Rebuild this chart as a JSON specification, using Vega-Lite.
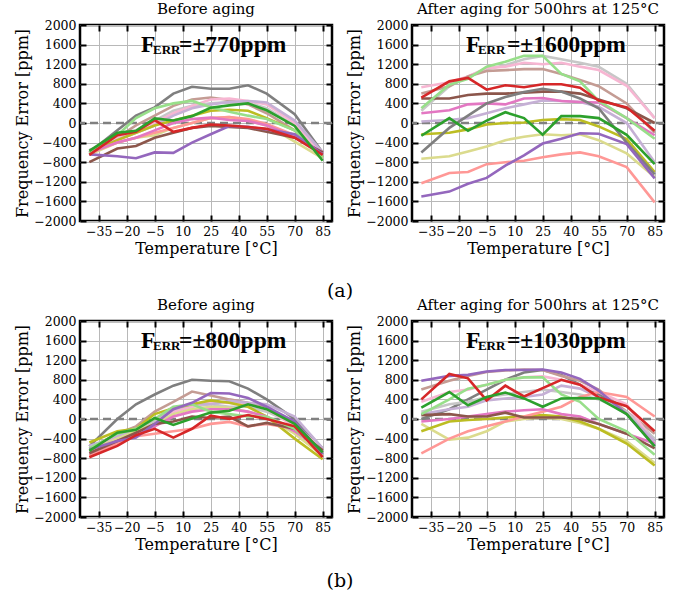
{
  "$schema": "https://vega.github.io/schema/vega-lite/v6.json",
  "padding": {"left": 13, "top": 0, "right": 5, "bottom": 0},
  "background": "white",
  "config": {
    "font": "DejaVu Serif",
    "view": {"stroke": "black", "strokeWidth": 2.5},
    "axis": {
      "labelFont": "DejaVu Serif", "labelFontSize": 12.5, "labelColor": "black",
      "titleFont": "DejaVu Serif", "titleFontSize": 16, "titleFontWeight": "normal", "titleColor": "black",
      "gridColor": "#b8b8b8", "gridWidth": 1, "gridOpacity": 1,
      "domain": false, "tickColor": "black", "tickWidth": 2, "tickSize": -6,
      "labelPadding": 10, "labelFlush": false, "labelOverlap": false, "labelBound": false, "titlePadding": 3
    },
    "title": {"font": "DejaVu Serif", "fontSize": 15, "fontWeight": "normal", "color": "black", "offset": 2},
    "concat": {"spacing": 10}
  },
  "datasets": {
    "one": [{}],
    "a1": [
      {"s":"gray","t":-40,"v":-600},{"s":"gray","t":-25,"v":-150},{"s":"gray","t":-15,"v":150},{"s":"gray","t":-5,"v":320},{"s":"gray","t":5,"v":600},{"s":"gray","t":15,"v":740},{"s":"gray","t":25,"v":700},{"s":"gray","t":35,"v":700},{"s":"gray","t":45,"v":770},{"s":"gray","t":55,"v":600},{"s":"gray","t":70,"v":180},{"s":"gray","t":85,"v":-600},
      {"s":"tan","t":-40,"v":-650},{"s":"tan","t":-25,"v":-300},{"s":"tan","t":-15,"v":-50},{"s":"tan","t":-5,"v":150},{"s":"tan","t":5,"v":350},{"s":"tan","t":15,"v":480},{"s":"tan","t":25,"v":520},{"s":"tan","t":35,"v":470},{"s":"tan","t":45,"v":380},{"s":"tan","t":55,"v":200},{"s":"tan","t":70,"v":-150},{"s":"tan","t":85,"v":-620},
      {"s":"lightgray","t":-40,"v":-620},{"s":"lightgray","t":-25,"v":-350},{"s":"lightgray","t":-15,"v":-150},{"s":"lightgray","t":-5,"v":50},{"s":"lightgray","t":5,"v":250},{"s":"lightgray","t":15,"v":350},{"s":"lightgray","t":25,"v":400},{"s":"lightgray","t":35,"v":430},{"s":"lightgray","t":45,"v":420},{"s":"lightgray","t":55,"v":300},{"s":"lightgray","t":70,"v":-50},{"s":"lightgray","t":85,"v":-650},
      {"s":"lightpink","t":-40,"v":-600},{"s":"lightpink","t":-25,"v":-300},{"s":"lightpink","t":-15,"v":-150},{"s":"lightpink","t":-5,"v":0},{"s":"lightpink","t":5,"v":200},{"s":"lightpink","t":15,"v":350},{"s":"lightpink","t":25,"v":480},{"s":"lightpink","t":35,"v":500},{"s":"lightpink","t":45,"v":450},{"s":"lightpink","t":55,"v":380},{"s":"lightpink","t":70,"v":0},{"s":"lightpink","t":85,"v":-650},
      {"s":"lightpurple","t":-40,"v":-550},{"s":"lightpurple","t":-25,"v":-350},{"s":"lightpurple","t":-15,"v":-200},{"s":"lightpurple","t":-5,"v":-50},{"s":"lightpurple","t":5,"v":150},{"s":"lightpurple","t":15,"v":300},{"s":"lightpurple","t":25,"v":380},{"s":"lightpurple","t":35,"v":430},{"s":"lightpurple","t":45,"v":450},{"s":"lightpurple","t":55,"v":420},{"s":"lightpurple","t":70,"v":50},{"s":"lightpurple","t":85,"v":-600},
      {"s":"lightolive","t":-40,"v":-650},{"s":"lightolive","t":-25,"v":-400},{"s":"lightolive","t":-15,"v":-300},{"s":"lightolive","t":-5,"v":-250},{"s":"lightolive","t":5,"v":-100},{"s":"lightolive","t":15,"v":0},{"s":"lightolive","t":25,"v":100},{"s":"lightolive","t":35,"v":120},{"s":"lightolive","t":45,"v":50},{"s":"lightolive","t":55,"v":-50},{"s":"lightolive","t":70,"v":-380},{"s":"lightolive","t":85,"v":-720},
      {"s":"olive","t":-40,"v":-600},{"s":"olive","t":-25,"v":-350},{"s":"olive","t":-15,"v":-200},{"s":"olive","t":-5,"v":-50},{"s":"olive","t":5,"v":50},{"s":"olive","t":15,"v":150},{"s":"olive","t":25,"v":250},{"s":"olive","t":35,"v":270},{"s":"olive","t":45,"v":250},{"s":"olive","t":55,"v":100},{"s":"olive","t":70,"v":-150},{"s":"olive","t":85,"v":-700},
      {"s":"salmon","t":-40,"v":-620},{"s":"salmon","t":-25,"v":-400},{"s":"salmon","t":-15,"v":-300},{"s":"salmon","t":-5,"v":-200},{"s":"salmon","t":5,"v":-100},{"s":"salmon","t":15,"v":0},{"s":"salmon","t":25,"v":100},{"s":"salmon","t":35,"v":120},{"s":"salmon","t":45,"v":80},{"s":"salmon","t":55,"v":-20},{"s":"salmon","t":70,"v":-250},{"s":"salmon","t":85,"v":-650},
      {"s":"pink","t":-40,"v":-600},{"s":"pink","t":-25,"v":-400},{"s":"pink","t":-15,"v":-300},{"s":"pink","t":-5,"v":-150},{"s":"pink","t":5,"v":0},{"s":"pink","t":15,"v":80},{"s":"pink","t":25,"v":110},{"s":"pink","t":35,"v":60},{"s":"pink","t":45,"v":40},{"s":"pink","t":55,"v":-50},{"s":"pink","t":70,"v":-280},{"s":"pink","t":85,"v":-600},
      {"s":"brown","t":-40,"v":-800},{"s":"brown","t":-25,"v":-520},{"s":"brown","t":-15,"v":-470},{"s":"brown","t":-5,"v":-300},{"s":"brown","t":5,"v":-200},{"s":"brown","t":15,"v":-100},{"s":"brown","t":25,"v":-60},{"s":"brown","t":35,"v":-80},{"s":"brown","t":45,"v":-100},{"s":"brown","t":55,"v":-180},{"s":"brown","t":70,"v":-300},{"s":"brown","t":85,"v":-600},
      {"s":"lightgreen","t":-40,"v":-620},{"s":"lightgreen","t":-25,"v":-250},{"s":"lightgreen","t":-15,"v":100},{"s":"lightgreen","t":-5,"v":300},{"s":"lightgreen","t":5,"v":400},{"s":"lightgreen","t":15,"v":450},{"s":"lightgreen","t":25,"v":320},{"s":"lightgreen","t":35,"v":230},{"s":"lightgreen","t":45,"v":150},{"s":"lightgreen","t":55,"v":80},{"s":"lightgreen","t":70,"v":-150},{"s":"lightgreen","t":85,"v":-700},
      {"s":"purple","t":-40,"v":-640},{"s":"purple","t":-25,"v":-680},{"s":"purple","t":-15,"v":-720},{"s":"purple","t":-5,"v":-600},{"s":"purple","t":5,"v":-610},{"s":"purple","t":15,"v":-400},{"s":"purple","t":25,"v":-230},{"s":"purple","t":35,"v":-60},{"s":"purple","t":45,"v":-80},{"s":"purple","t":55,"v":-130},{"s":"purple","t":70,"v":-230},{"s":"purple","t":85,"v":-640},
      {"s":"red","t":-40,"v":-650},{"s":"red","t":-25,"v":-250},{"s":"red","t":-15,"v":-180},{"s":"red","t":-5,"v":60},{"s":"red","t":5,"v":-180},{"s":"red","t":15,"v":-100},{"s":"red","t":25,"v":-30},{"s":"red","t":35,"v":-50},{"s":"red","t":45,"v":-80},{"s":"red","t":55,"v":-120},{"s":"red","t":70,"v":-300},{"s":"red","t":85,"v":-650},
      {"s":"green","t":-40,"v":-570},{"s":"green","t":-25,"v":-200},{"s":"green","t":-15,"v":-160},{"s":"green","t":-5,"v":95},{"s":"green","t":5,"v":50},{"s":"green","t":15,"v":140},{"s":"green","t":25,"v":310},{"s":"green","t":35,"v":360},{"s":"green","t":45,"v":400},{"s":"green","t":55,"v":260},{"s":"green","t":70,"v":-60},{"s":"green","t":85,"v":-770}
    ],
    "a2": [
      {"s":"lightgray","t":-40,"v":250},{"s":"lightgray","t":-25,"v":750},{"s":"lightgray","t":-15,"v":950},{"s":"lightgray","t":-5,"v":1100},{"s":"lightgray","t":5,"v":1180},{"s":"lightgray","t":15,"v":1300},{"s":"lightgray","t":25,"v":1370},{"s":"lightgray","t":35,"v":1300},{"s":"lightgray","t":45,"v":1230},{"s":"lightgray","t":55,"v":1150},{"s":"lightgray","t":70,"v":800},{"s":"lightgray","t":85,"v":100},
      {"s":"lightpink","t":-40,"v":730},{"s":"lightpink","t":-25,"v":830},{"s":"lightpink","t":-15,"v":950},{"s":"lightpink","t":-5,"v":1120},{"s":"lightpink","t":5,"v":1150},{"s":"lightpink","t":15,"v":1230},{"s":"lightpink","t":25,"v":1200},{"s":"lightpink","t":35,"v":1230},{"s":"lightpink","t":45,"v":1150},{"s":"lightpink","t":55,"v":1080},{"s":"lightpink","t":70,"v":760},{"s":"lightpink","t":85,"v":100},
      {"s":"tan","t":-40,"v":600},{"s":"tan","t":-25,"v":750},{"s":"tan","t":-15,"v":950},{"s":"tan","t":-5,"v":1060},{"s":"tan","t":5,"v":1080},{"s":"tan","t":15,"v":1100},{"s":"tan","t":25,"v":1100},{"s":"tan","t":35,"v":1000},{"s":"tan","t":45,"v":880},{"s":"tan","t":55,"v":750},{"s":"tan","t":70,"v":400},{"s":"tan","t":85,"v":-200},
      {"s":"lightpurple","t":-40,"v":30},{"s":"lightpurple","t":-25,"v":60},{"s":"lightpurple","t":-15,"v":100},{"s":"lightpurple","t":-5,"v":200},{"s":"lightpurple","t":5,"v":300},{"s":"lightpurple","t":15,"v":380},{"s":"lightpurple","t":25,"v":460},{"s":"lightpurple","t":35,"v":450},{"s":"lightpurple","t":45,"v":430},{"s":"lightpurple","t":55,"v":330},{"s":"lightpurple","t":70,"v":0},{"s":"lightpurple","t":85,"v":-800},
      {"s":"lightolive","t":-40,"v":-730},{"s":"lightolive","t":-25,"v":-680},{"s":"lightolive","t":-15,"v":-580},{"s":"lightolive","t":-5,"v":-480},{"s":"lightolive","t":5,"v":-350},{"s":"lightolive","t":15,"v":-280},{"s":"lightolive","t":25,"v":-230},{"s":"lightolive","t":35,"v":-250},{"s":"lightolive","t":45,"v":-230},{"s":"lightolive","t":55,"v":-350},{"s":"lightolive","t":70,"v":-620},{"s":"lightolive","t":85,"v":-1100},
      {"s":"olive","t":-40,"v":-230},{"s":"olive","t":-25,"v":-200},{"s":"olive","t":-15,"v":-130},{"s":"olive","t":-5,"v":-30},{"s":"olive","t":5,"v":0},{"s":"olive","t":15,"v":10},{"s":"olive","t":25,"v":60},{"s":"olive","t":35,"v":80},{"s":"olive","t":45,"v":60},{"s":"olive","t":55,"v":-70},{"s":"olive","t":70,"v":-330},{"s":"olive","t":85,"v":-1000},
      {"s":"salmon","t":-40,"v":-1230},{"s":"salmon","t":-25,"v":-1020},{"s":"salmon","t":-15,"v":-1000},{"s":"salmon","t":-5,"v":-840},{"s":"salmon","t":5,"v":-800},{"s":"salmon","t":15,"v":-770},{"s":"salmon","t":25,"v":-700},{"s":"salmon","t":35,"v":-640},{"s":"salmon","t":45,"v":-600},{"s":"salmon","t":55,"v":-680},{"s":"salmon","t":70,"v":-900},{"s":"salmon","t":85,"v":-1620},
      {"s":"pink","t":-40,"v":200},{"s":"pink","t":-25,"v":260},{"s":"pink","t":-15,"v":380},{"s":"pink","t":-5,"v":400},{"s":"pink","t":5,"v":380},{"s":"pink","t":15,"v":500},{"s":"pink","t":25,"v":510},{"s":"pink","t":35,"v":450},{"s":"pink","t":45,"v":430},{"s":"pink","t":55,"v":420},{"s":"pink","t":70,"v":100},{"s":"pink","t":85,"v":-250},
      {"s":"brown","t":-40,"v":500},{"s":"brown","t":-25,"v":500},{"s":"brown","t":-15,"v":570},{"s":"brown","t":-5,"v":600},{"s":"brown","t":5,"v":600},{"s":"brown","t":15,"v":620},{"s":"brown","t":25,"v":640},{"s":"brown","t":35,"v":640},{"s":"brown","t":45,"v":600},{"s":"brown","t":55,"v":480},{"s":"brown","t":70,"v":300},{"s":"brown","t":85,"v":0},
      {"s":"gray","t":-40,"v":-600},{"s":"gray","t":-25,"v":-100},{"s":"gray","t":-15,"v":150},{"s":"gray","t":-5,"v":400},{"s":"gray","t":5,"v":530},{"s":"gray","t":15,"v":630},{"s":"gray","t":25,"v":700},{"s":"gray","t":35,"v":640},{"s":"gray","t":45,"v":500},{"s":"gray","t":55,"v":300},{"s":"gray","t":70,"v":-400},{"s":"gray","t":85,"v":-1050},
      {"s":"lightgreen","t":-40,"v":300},{"s":"lightgreen","t":-25,"v":780},{"s":"lightgreen","t":-15,"v":900},{"s":"lightgreen","t":-5,"v":1150},{"s":"lightgreen","t":5,"v":1250},{"s":"lightgreen","t":15,"v":1370},{"s":"lightgreen","t":25,"v":1370},{"s":"lightgreen","t":35,"v":1000},{"s":"lightgreen","t":45,"v":850},{"s":"lightgreen","t":55,"v":450},{"s":"lightgreen","t":70,"v":100},{"s":"lightgreen","t":85,"v":-320},
      {"s":"purple","t":-40,"v":-1500},{"s":"purple","t":-25,"v":-1400},{"s":"purple","t":-15,"v":-1240},{"s":"purple","t":-5,"v":-1120},{"s":"purple","t":5,"v":-870},{"s":"purple","t":15,"v":-660},{"s":"purple","t":25,"v":-420},{"s":"purple","t":35,"v":-320},{"s":"purple","t":45,"v":-210},{"s":"purple","t":55,"v":-220},{"s":"purple","t":70,"v":-430},{"s":"purple","t":85,"v":-1130},
      {"s":"red","t":-40,"v":520},{"s":"red","t":-25,"v":850},{"s":"red","t":-15,"v":920},{"s":"red","t":-5,"v":680},{"s":"red","t":5,"v":770},{"s":"red","t":15,"v":730},{"s":"red","t":25,"v":790},{"s":"red","t":35,"v":790},{"s":"red","t":45,"v":720},{"s":"red","t":55,"v":460},{"s":"red","t":70,"v":320},{"s":"red","t":85,"v":-160},
      {"s":"green","t":-40,"v":-260},{"s":"green","t":-25,"v":100},{"s":"green","t":-15,"v":-160},{"s":"green","t":-5,"v":50},{"s":"green","t":5,"v":220},{"s":"green","t":15,"v":100},{"s":"green","t":25,"v":-240},{"s":"green","t":35,"v":140},{"s":"green","t":45,"v":140},{"s":"green","t":55,"v":100},{"s":"green","t":70,"v":-240},{"s":"green","t":85,"v":-840}
    ],
    "b1": [
      {"s":"gray","t":-40,"v":-560},{"s":"gray","t":-25,"v":0},{"s":"gray","t":-15,"v":300},{"s":"gray","t":-5,"v":500},{"s":"gray","t":5,"v":680},{"s":"gray","t":15,"v":800},{"s":"gray","t":25,"v":780},{"s":"gray","t":35,"v":770},{"s":"gray","t":45,"v":620},{"s":"gray","t":55,"v":400},{"s":"gray","t":70,"v":0},{"s":"gray","t":85,"v":-600},
      {"s":"tan","t":-40,"v":-600},{"s":"tan","t":-25,"v":-300},{"s":"tan","t":-15,"v":-150},{"s":"tan","t":-5,"v":150},{"s":"tan","t":5,"v":350},{"s":"tan","t":15,"v":560},{"s":"tan","t":25,"v":480},{"s":"tan","t":35,"v":400},{"s":"tan","t":45,"v":330},{"s":"tan","t":55,"v":250},{"s":"tan","t":70,"v":-100},{"s":"tan","t":85,"v":-650},
      {"s":"lightgray","t":-40,"v":-600},{"s":"lightgray","t":-25,"v":-350},{"s":"lightgray","t":-15,"v":-250},{"s":"lightgray","t":-5,"v":-50},{"s":"lightgray","t":5,"v":150},{"s":"lightgray","t":15,"v":250},{"s":"lightgray","t":25,"v":300},{"s":"lightgray","t":35,"v":250},{"s":"lightgray","t":45,"v":250},{"s":"lightgray","t":55,"v":150},{"s":"lightgray","t":70,"v":-100},{"s":"lightgray","t":85,"v":-650},
      {"s":"lightpink","t":-40,"v":-650},{"s":"lightpink","t":-25,"v":-350},{"s":"lightpink","t":-15,"v":-200},{"s":"lightpink","t":-5,"v":0},{"s":"lightpink","t":5,"v":150},{"s":"lightpink","t":15,"v":250},{"s":"lightpink","t":25,"v":350},{"s":"lightpink","t":35,"v":330},{"s":"lightpink","t":45,"v":300},{"s":"lightpink","t":55,"v":200},{"s":"lightpink","t":70,"v":-150},{"s":"lightpink","t":85,"v":-600},
      {"s":"lightpurple","t":-40,"v":-550},{"s":"lightpurple","t":-25,"v":-350},{"s":"lightpurple","t":-15,"v":-200},{"s":"lightpurple","t":-5,"v":0},{"s":"lightpurple","t":5,"v":200},{"s":"lightpurple","t":15,"v":300},{"s":"lightpurple","t":25,"v":300},{"s":"lightpurple","t":35,"v":370},{"s":"lightpurple","t":45,"v":330},{"s":"lightpurple","t":55,"v":300},{"s":"lightpurple","t":70,"v":50},{"s":"lightpurple","t":85,"v":-600},
      {"s":"lightolive","t":-40,"v":-650},{"s":"lightolive","t":-25,"v":-400},{"s":"lightolive","t":-15,"v":-250},{"s":"lightolive","t":-5,"v":-100},{"s":"lightolive","t":5,"v":100},{"s":"lightolive","t":15,"v":200},{"s":"lightolive","t":25,"v":250},{"s":"lightolive","t":35,"v":230},{"s":"lightolive","t":45,"v":150},{"s":"lightolive","t":55,"v":50},{"s":"lightolive","t":70,"v":-300},{"s":"lightolive","t":85,"v":-750},
      {"s":"olive","t":-40,"v":-480},{"s":"olive","t":-25,"v":-250},{"s":"olive","t":-15,"v":-200},{"s":"olive","t":-5,"v":100},{"s":"olive","t":5,"v":220},{"s":"olive","t":15,"v":300},{"s":"olive","t":25,"v":380},{"s":"olive","t":35,"v":330},{"s":"olive","t":45,"v":250},{"s":"olive","t":55,"v":50},{"s":"olive","t":70,"v":-400},{"s":"olive","t":85,"v":-820},
      {"s":"salmon","t":-40,"v":-750},{"s":"salmon","t":-25,"v":-500},{"s":"salmon","t":-15,"v":-350},{"s":"salmon","t":-5,"v":-300},{"s":"salmon","t":5,"v":-250},{"s":"salmon","t":15,"v":-200},{"s":"salmon","t":25,"v":-100},{"s":"salmon","t":35,"v":-60},{"s":"salmon","t":45,"v":-150},{"s":"salmon","t":55,"v":-100},{"s":"salmon","t":70,"v":-200},{"s":"salmon","t":85,"v":-700},
      {"s":"pink","t":-40,"v":-700},{"s":"pink","t":-25,"v":-450},{"s":"pink","t":-15,"v":-300},{"s":"pink","t":-5,"v":-150},{"s":"pink","t":5,"v":50},{"s":"pink","t":15,"v":150},{"s":"pink","t":25,"v":200},{"s":"pink","t":35,"v":200},{"s":"pink","t":45,"v":150},{"s":"pink","t":55,"v":50},{"s":"pink","t":70,"v":-250},{"s":"pink","t":85,"v":-650},
      {"s":"brown","t":-40,"v":-700},{"s":"brown","t":-25,"v":-450},{"s":"brown","t":-15,"v":-280},{"s":"brown","t":-5,"v":-100},{"s":"brown","t":5,"v":-50},{"s":"brown","t":15,"v":50},{"s":"brown","t":25,"v":20},{"s":"brown","t":35,"v":50},{"s":"brown","t":45,"v":-150},{"s":"brown","t":55,"v":-80},{"s":"brown","t":70,"v":-200},{"s":"brown","t":85,"v":-640},
      {"s":"lightgreen","t":-40,"v":-600},{"s":"lightgreen","t":-25,"v":-300},{"s":"lightgreen","t":-15,"v":-200},{"s":"lightgreen","t":-5,"v":0},{"s":"lightgreen","t":5,"v":250},{"s":"lightgreen","t":15,"v":300},{"s":"lightgreen","t":25,"v":150},{"s":"lightgreen","t":35,"v":100},{"s":"lightgreen","t":45,"v":50},{"s":"lightgreen","t":55,"v":50},{"s":"lightgreen","t":70,"v":-200},{"s":"lightgreen","t":85,"v":-700},
      {"s":"purple","t":-40,"v":-620},{"s":"purple","t":-25,"v":-450},{"s":"purple","t":-15,"v":-380},{"s":"purple","t":-5,"v":-100},{"s":"purple","t":5,"v":200},{"s":"purple","t":15,"v":330},{"s":"purple","t":25,"v":530},{"s":"purple","t":35,"v":520},{"s":"purple","t":45,"v":430},{"s":"purple","t":55,"v":250},{"s":"purple","t":70,"v":-50},{"s":"purple","t":85,"v":-720},
      {"s":"red","t":-40,"v":-780},{"s":"red","t":-25,"v":-550},{"s":"red","t":-15,"v":-330},{"s":"red","t":-5,"v":-200},{"s":"red","t":5,"v":-380},{"s":"red","t":15,"v":-200},{"s":"red","t":25,"v":70},{"s":"red","t":35,"v":0},{"s":"red","t":45,"v":80},{"s":"red","t":55,"v":0},{"s":"red","t":70,"v":-150},{"s":"red","t":85,"v":-780},
      {"s":"green","t":-40,"v":-650},{"s":"green","t":-25,"v":-280},{"s":"green","t":-15,"v":-220},{"s":"green","t":-5,"v":20},{"s":"green","t":5,"v":-120},{"s":"green","t":15,"v":10},{"s":"green","t":25,"v":130},{"s":"green","t":35,"v":170},{"s":"green","t":45,"v":300},{"s":"green","t":55,"v":200},{"s":"green","t":70,"v":-100},{"s":"green","t":85,"v":-680}
    ],
    "b2": [
      {"s":"gray","t":-40,"v":0},{"s":"gray","t":-25,"v":200},{"s":"gray","t":-15,"v":400},{"s":"gray","t":-5,"v":600},{"s":"gray","t":5,"v":800},{"s":"gray","t":15,"v":950},{"s":"gray","t":25,"v":1000},{"s":"gray","t":35,"v":900},{"s":"gray","t":45,"v":700},{"s":"gray","t":55,"v":500},{"s":"gray","t":70,"v":150},{"s":"gray","t":85,"v":-450},
      {"s":"tan","t":-40,"v":600},{"s":"tan","t":-25,"v":780},{"s":"tan","t":-15,"v":880},{"s":"tan","t":-5,"v":960},{"s":"tan","t":5,"v":990},{"s":"tan","t":15,"v":1010},{"s":"tan","t":25,"v":1000},{"s":"tan","t":35,"v":880},{"s":"tan","t":45,"v":780},{"s":"tan","t":55,"v":600},{"s":"tan","t":70,"v":150},{"s":"tan","t":85,"v":-300},
      {"s":"lightgray","t":-40,"v":150},{"s":"lightgray","t":-25,"v":300},{"s":"lightgray","t":-15,"v":350},{"s":"lightgray","t":-5,"v":450},{"s":"lightgray","t":5,"v":500},{"s":"lightgray","t":15,"v":550},{"s":"lightgray","t":25,"v":600},{"s":"lightgray","t":35,"v":550},{"s":"lightgray","t":45,"v":500},{"s":"lightgray","t":55,"v":400},{"s":"lightgray","t":70,"v":150},{"s":"lightgray","t":85,"v":-400},
      {"s":"lightpink","t":-40,"v":350},{"s":"lightpink","t":-25,"v":550},{"s":"lightpink","t":-15,"v":600},{"s":"lightpink","t":-5,"v":700},{"s":"lightpink","t":5,"v":800},{"s":"lightpink","t":15,"v":850},{"s":"lightpink","t":25,"v":870},{"s":"lightpink","t":35,"v":800},{"s":"lightpink","t":45,"v":700},{"s":"lightpink","t":55,"v":550},{"s":"lightpink","t":70,"v":300},{"s":"lightpink","t":85,"v":-500},
      {"s":"lightpurple","t":-40,"v":100},{"s":"lightpurple","t":-25,"v":200},{"s":"lightpurple","t":-15,"v":250},{"s":"lightpurple","t":-5,"v":380},{"s":"lightpurple","t":5,"v":420},{"s":"lightpurple","t":15,"v":450},{"s":"lightpurple","t":25,"v":500},{"s":"lightpurple","t":35,"v":680},{"s":"lightpurple","t":45,"v":620},{"s":"lightpurple","t":55,"v":450},{"s":"lightpurple","t":70,"v":100},{"s":"lightpurple","t":85,"v":-450},
      {"s":"lightolive","t":-40,"v":-100},{"s":"lightolive","t":-25,"v":-420},{"s":"lightolive","t":-15,"v":-380},{"s":"lightolive","t":-5,"v":-250},{"s":"lightolive","t":5,"v":-50},{"s":"lightolive","t":15,"v":0},{"s":"lightolive","t":25,"v":30},{"s":"lightolive","t":35,"v":0},{"s":"lightolive","t":45,"v":-80},{"s":"lightolive","t":55,"v":-200},{"s":"lightolive","t":70,"v":-450},{"s":"lightolive","t":85,"v":-900},
      {"s":"olive","t":-40,"v":-250},{"s":"olive","t":-25,"v":-50},{"s":"olive","t":-15,"v":-20},{"s":"olive","t":-5,"v":0},{"s":"olive","t":5,"v":30},{"s":"olive","t":15,"v":50},{"s":"olive","t":25,"v":80},{"s":"olive","t":35,"v":50},{"s":"olive","t":45,"v":-50},{"s":"olive","t":55,"v":-200},{"s":"olive","t":70,"v":-500},{"s":"olive","t":85,"v":-950},
      {"s":"salmon","t":-40,"v":-700},{"s":"salmon","t":-25,"v":-400},{"s":"salmon","t":-15,"v":-250},{"s":"salmon","t":-5,"v":-150},{"s":"salmon","t":5,"v":-50},{"s":"salmon","t":15,"v":50},{"s":"salmon","t":25,"v":150},{"s":"salmon","t":35,"v":250},{"s":"salmon","t":45,"v":450},{"s":"salmon","t":55,"v":550},{"s":"salmon","t":70,"v":450},{"s":"salmon","t":85,"v":50},
      {"s":"pink","t":-40,"v":-50},{"s":"pink","t":-25,"v":0},{"s":"pink","t":-15,"v":50},{"s":"pink","t":-5,"v":100},{"s":"pink","t":5,"v":150},{"s":"pink","t":15,"v":180},{"s":"pink","t":25,"v":200},{"s":"pink","t":35,"v":100},{"s":"pink","t":45,"v":50},{"s":"pink","t":55,"v":-100},{"s":"pink","t":70,"v":-300},{"s":"pink","t":85,"v":-500},
      {"s":"brown","t":-40,"v":80},{"s":"brown","t":-25,"v":100},{"s":"brown","t":-15,"v":50},{"s":"brown","t":-5,"v":50},{"s":"brown","t":5,"v":130},{"s":"brown","t":15,"v":30},{"s":"brown","t":25,"v":30},{"s":"brown","t":35,"v":30},{"s":"brown","t":45,"v":0},{"s":"brown","t":55,"v":-100},{"s":"brown","t":70,"v":-300},{"s":"brown","t":85,"v":-600},
      {"s":"lightgreen","t":-40,"v":100},{"s":"lightgreen","t":-25,"v":400},{"s":"lightgreen","t":-15,"v":620},{"s":"lightgreen","t":-5,"v":700},{"s":"lightgreen","t":5,"v":800},{"s":"lightgreen","t":15,"v":850},{"s":"lightgreen","t":25,"v":850},{"s":"lightgreen","t":35,"v":500},{"s":"lightgreen","t":45,"v":350},{"s":"lightgreen","t":55,"v":0},{"s":"lightgreen","t":70,"v":-250},{"s":"lightgreen","t":85,"v":-730},
      {"s":"purple","t":-40,"v":780},{"s":"purple","t":-25,"v":880},{"s":"purple","t":-15,"v":900},{"s":"purple","t":-5,"v":970},{"s":"purple","t":5,"v":1000},{"s":"purple","t":15,"v":1000},{"s":"purple","t":25,"v":1010},{"s":"purple","t":35,"v":950},{"s":"purple","t":45,"v":820},{"s":"purple","t":55,"v":580},{"s":"purple","t":70,"v":100},{"s":"purple","t":85,"v":-550},
      {"s":"red","t":-40,"v":400},{"s":"red","t":-25,"v":920},{"s":"red","t":-15,"v":830},{"s":"red","t":-5,"v":380},{"s":"red","t":5,"v":680},{"s":"red","t":15,"v":460},{"s":"red","t":25,"v":630},{"s":"red","t":35,"v":800},{"s":"red","t":45,"v":700},{"s":"red","t":55,"v":440},{"s":"red","t":70,"v":260},{"s":"red","t":85,"v":-250},
      {"s":"green","t":-40,"v":230},{"s":"green","t":-25,"v":550},{"s":"green","t":-15,"v":280},{"s":"green","t":-5,"v":450},{"s":"green","t":5,"v":540},{"s":"green","t":15,"v":420},{"s":"green","t":25,"v":250},{"s":"green","t":35,"v":420},{"s":"green","t":45,"v":430},{"s":"green","t":55,"v":420},{"s":"green","t":70,"v":100},{"s":"green","t":85,"v":-560}
    ]
  },
  "spacing": -5,
  "vconcat": [
    {
      "title": {"text": "(a)", "orient": "bottom", "anchor": "middle", "fontSize": 19, "offset": 24},
      "hconcat": [
        {
          "width": 252, "height": 196,
          "title": "Before aging",
          "layer": [
            {"data": {"name": "one"},
             "mark": {"type": "rule", "color": "#808080", "strokeWidth": 2.5, "strokeDash": [8, 5]},
             "encoding": {"y": {"datum": 0, "type": "quantitative", "axis": null}}},
            {"data": {"name": "a1"},
             "mark": {"type": "line", "strokeWidth": 2.6},
             "encoding": {
               "x": {"field": "t", "type": "quantitative", "scale": {"domain": [-45, 90], "nice": false, "zero": false},
                     "axis": {"orient": "bottom", "grid": true, "values": [-35,-20,-5,10,25,40,55,70,85], "format": "d", "title": "Temperature [°C]"}},
               "y": {"field": "v", "type": "quantitative", "scale": {"domain": [-2000, 2000], "nice": false},
                     "axis": {"orient": "left", "grid": true, "values": [-2000,-1600,-1200,-800,-400,0,400,800,1200,1600,2000], "format": "d", "title": "Frequency Error [ppm]"}},
               "color": {"field": "s", "type": "nominal", "legend": null,
                         "scale": {"domain": ["gray","lightgray","tan","brown","pink","lightpink","purple","lightpurple","red","salmon","green","lightgreen","olive","lightolive"],
                                   "range": ["#7f7f7f","#c7c7c7","#c49c94","#8c564b","#e377c2","#f7b6d2","#9467bd","#c5b0d5","#d62728","#ff9896","#2ca02c","#98df8a","#bcbd22","#dbdb8d"]}}
             }},
            {"data": {"name": "one"},
             "mark": {"type": "text", "text": "F", "font": "Liberation Sans Narrow", "fontWeight": "bold", "fontSize": 23.5, "align": "left", "baseline": "alphabetic", "color": "black"},
             "encoding": {
               "x": {"datum": -12.3, "type": "quantitative", "axis": {"orient": "top", "labels": false, "grid": false, "title": null, "values": [-35,-20,-5,10,25,40,55,70,85]}},
               "y": {"datum": 1455, "type": "quantitative", "axis": {"orient": "right", "labels": false, "grid": false, "title": null, "values": [-2000,-1600,-1200,-800,-400,0,400,800,1200,1600,2000]}}}},
            {"data": {"name": "one"},
             "mark": {"type": "text", "text": "ERR", "font": "Liberation Sans Narrow", "fontWeight": "bold", "fontSize": 13, "align": "left", "baseline": "alphabetic", "dx": 12, "dy": 2, "color": "black"},
             "encoding": {"x": {"datum": -12.3, "type": "quantitative", "axis": null}, "y": {"datum": 1455, "type": "quantitative", "axis": null}}},
            {"data": {"name": "one"},
             "mark": {"type": "text", "text": "=±770ppm", "font": "Liberation Sans Narrow", "fontWeight": "bold", "fontSize": 23.5, "align": "left", "baseline": "alphabetic", "dx": 38, "color": "black"},
             "encoding": {"x": {"datum": -12.3, "type": "quantitative", "axis": null}, "y": {"datum": 1455, "type": "quantitative", "axis": null}}}
          ]
        },
        {
          "width": 252, "height": 196,
          "title": "After aging for 500hrs at 125°C",
          "layer": [
            {"data": {"name": "one"},
             "mark": {"type": "rule", "color": "#808080", "strokeWidth": 2.5, "strokeDash": [8, 5]},
             "encoding": {"y": {"datum": 0, "type": "quantitative", "axis": null}}},
            {"data": {"name": "a2"},
             "mark": {"type": "line", "strokeWidth": 2.6},
             "encoding": {
               "x": {"field": "t", "type": "quantitative", "scale": {"domain": [-45, 90], "nice": false, "zero": false},
                     "axis": {"orient": "bottom", "grid": true, "values": [-35,-20,-5,10,25,40,55,70,85], "format": "d", "title": "Temperature [°C]"}},
               "y": {"field": "v", "type": "quantitative", "scale": {"domain": [-2000, 2000], "nice": false},
                     "axis": {"orient": "left", "grid": true, "values": [-2000,-1600,-1200,-800,-400,0,400,800,1200,1600,2000], "format": "d", "title": "Frequency Error [ppm]"}},
               "color": {"field": "s", "type": "nominal", "legend": null,
                         "scale": {"domain": ["gray","lightgray","tan","brown","pink","lightpink","purple","lightpurple","red","salmon","green","lightgreen","olive","lightolive"],
                                   "range": ["#7f7f7f","#c7c7c7","#c49c94","#8c564b","#e377c2","#f7b6d2","#9467bd","#c5b0d5","#d62728","#ff9896","#2ca02c","#98df8a","#bcbd22","#dbdb8d"]}}
             }},
            {"data": {"name": "one"},
             "mark": {"type": "text", "text": "F", "font": "Liberation Sans Narrow", "fontWeight": "bold", "fontSize": 23.5, "align": "left", "baseline": "alphabetic", "color": "black"},
             "encoding": {
               "x": {"datum": -16.1, "type": "quantitative", "axis": {"orient": "top", "labels": false, "grid": false, "title": null, "values": [-35,-20,-5,10,25,40,55,70,85]}},
               "y": {"datum": 1455, "type": "quantitative", "axis": {"orient": "right", "labels": false, "grid": false, "title": null, "values": [-2000,-1600,-1200,-800,-400,0,400,800,1200,1600,2000]}}}},
            {"data": {"name": "one"},
             "mark": {"type": "text", "text": "ERR", "font": "Liberation Sans Narrow", "fontWeight": "bold", "fontSize": 13, "align": "left", "baseline": "alphabetic", "dx": 12, "dy": 2, "color": "black"},
             "encoding": {"x": {"datum": -16.1, "type": "quantitative", "axis": null}, "y": {"datum": 1455, "type": "quantitative", "axis": null}}},
            {"data": {"name": "one"},
             "mark": {"type": "text", "text": "=±1600ppm", "font": "Liberation Sans Narrow", "fontWeight": "bold", "fontSize": 23.5, "align": "left", "baseline": "alphabetic", "dx": 41, "color": "black"},
             "encoding": {"x": {"datum": -16.1, "type": "quantitative", "axis": null}, "y": {"datum": 1455, "type": "quantitative", "axis": null}}}
          ]
        }
      ]
    },
    {
      "title": {"text": "(b)", "orient": "bottom", "anchor": "middle", "fontSize": 19, "offset": 18},
      "hconcat": [
        {
          "width": 252, "height": 196,
          "title": "Before aging",
          "layer": [
            {"data": {"name": "one"},
             "mark": {"type": "rule", "color": "#808080", "strokeWidth": 2.5, "strokeDash": [8, 5]},
             "encoding": {"y": {"datum": 0, "type": "quantitative", "axis": null}}},
            {"data": {"name": "b1"},
             "mark": {"type": "line", "strokeWidth": 2.6},
             "encoding": {
               "x": {"field": "t", "type": "quantitative", "scale": {"domain": [-45, 90], "nice": false, "zero": false},
                     "axis": {"orient": "bottom", "grid": true, "values": [-35,-20,-5,10,25,40,55,70,85], "format": "d", "title": "Temperature [°C]"}},
               "y": {"field": "v", "type": "quantitative", "scale": {"domain": [-2000, 2000], "nice": false},
                     "axis": {"orient": "left", "grid": true, "values": [-2000,-1600,-1200,-800,-400,0,400,800,1200,1600,2000], "format": "d", "title": "Frequency Error [ppm]"}},
               "color": {"field": "s", "type": "nominal", "legend": null,
                         "scale": {"domain": ["gray","lightgray","tan","brown","pink","lightpink","purple","lightpurple","red","salmon","green","lightgreen","olive","lightolive"],
                                   "range": ["#7f7f7f","#c7c7c7","#c49c94","#8c564b","#e377c2","#f7b6d2","#9467bd","#c5b0d5","#d62728","#ff9896","#2ca02c","#98df8a","#bcbd22","#dbdb8d"]}}
             }},
            {"data": {"name": "one"},
             "mark": {"type": "text", "text": "F", "font": "Liberation Sans Narrow", "fontWeight": "bold", "fontSize": 23.5, "align": "left", "baseline": "alphabetic", "color": "black"},
             "encoding": {
               "x": {"datum": -12.3, "type": "quantitative", "axis": {"orient": "top", "labels": false, "grid": false, "title": null, "values": [-35,-20,-5,10,25,40,55,70,85]}},
               "y": {"datum": 1455, "type": "quantitative", "axis": {"orient": "right", "labels": false, "grid": false, "title": null, "values": [-2000,-1600,-1200,-800,-400,0,400,800,1200,1600,2000]}}}},
            {"data": {"name": "one"},
             "mark": {"type": "text", "text": "ERR", "font": "Liberation Sans Narrow", "fontWeight": "bold", "fontSize": 13, "align": "left", "baseline": "alphabetic", "dx": 12, "dy": 2, "color": "black"},
             "encoding": {"x": {"datum": -12.3, "type": "quantitative", "axis": null}, "y": {"datum": 1455, "type": "quantitative", "axis": null}}},
            {"data": {"name": "one"},
             "mark": {"type": "text", "text": "=±800ppm", "font": "Liberation Sans Narrow", "fontWeight": "bold", "fontSize": 23.5, "align": "left", "baseline": "alphabetic", "dx": 38, "color": "black"},
             "encoding": {"x": {"datum": -12.3, "type": "quantitative", "axis": null}, "y": {"datum": 1455, "type": "quantitative", "axis": null}}}
          ]
        },
        {
          "width": 252, "height": 196,
          "title": "After aging for 500hrs at 125°C",
          "layer": [
            {"data": {"name": "one"},
             "mark": {"type": "rule", "color": "#808080", "strokeWidth": 2.5, "strokeDash": [8, 5]},
             "encoding": {"y": {"datum": 0, "type": "quantitative", "axis": null}}},
            {"data": {"name": "b2"},
             "mark": {"type": "line", "strokeWidth": 2.6},
             "encoding": {
               "x": {"field": "t", "type": "quantitative", "scale": {"domain": [-45, 90], "nice": false, "zero": false},
                     "axis": {"orient": "bottom", "grid": true, "values": [-35,-20,-5,10,25,40,55,70,85], "format": "d", "title": "Temperature [°C]"}},
               "y": {"field": "v", "type": "quantitative", "scale": {"domain": [-2000, 2000], "nice": false},
                     "axis": {"orient": "left", "grid": true, "values": [-2000,-1600,-1200,-800,-400,0,400,800,1200,1600,2000], "format": "d", "title": "Frequency Error [ppm]"}},
               "color": {"field": "s", "type": "nominal", "legend": null,
                         "scale": {"domain": ["gray","lightgray","tan","brown","pink","lightpink","purple","lightpurple","red","salmon","green","lightgreen","olive","lightolive"],
                                   "range": ["#7f7f7f","#c7c7c7","#c49c94","#8c564b","#e377c2","#f7b6d2","#9467bd","#c5b0d5","#d62728","#ff9896","#2ca02c","#98df8a","#bcbd22","#dbdb8d"]}}
             }},
            {"data": {"name": "one"},
             "mark": {"type": "text", "text": "F", "font": "Liberation Sans Narrow", "fontWeight": "bold", "fontSize": 23.5, "align": "left", "baseline": "alphabetic", "color": "black"},
             "encoding": {
               "x": {"datum": -16.1, "type": "quantitative", "axis": {"orient": "top", "labels": false, "grid": false, "title": null, "values": [-35,-20,-5,10,25,40,55,70,85]}},
               "y": {"datum": 1455, "type": "quantitative", "axis": {"orient": "right", "labels": false, "grid": false, "title": null, "values": [-2000,-1600,-1200,-800,-400,0,400,800,1200,1600,2000]}}}},
            {"data": {"name": "one"},
             "mark": {"type": "text", "text": "ERR", "font": "Liberation Sans Narrow", "fontWeight": "bold", "fontSize": 13, "align": "left", "baseline": "alphabetic", "dx": 12, "dy": 2, "color": "black"},
             "encoding": {"x": {"datum": -16.1, "type": "quantitative", "axis": null}, "y": {"datum": 1455, "type": "quantitative", "axis": null}}},
            {"data": {"name": "one"},
             "mark": {"type": "text", "text": "=±1030ppm", "font": "Liberation Sans Narrow", "fontWeight": "bold", "fontSize": 23.5, "align": "left", "baseline": "alphabetic", "dx": 41, "color": "black"},
             "encoding": {"x": {"datum": -16.1, "type": "quantitative", "axis": null}, "y": {"datum": 1455, "type": "quantitative", "axis": null}}}
          ]
        }
      ]
    }
  ]
}
